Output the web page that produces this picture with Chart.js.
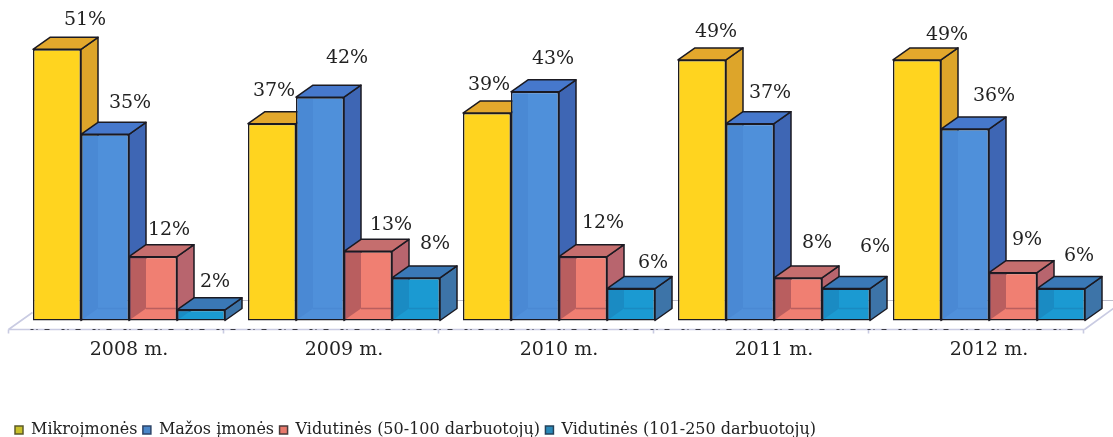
<!DOCTYPE html>
<html><head><meta charset="utf-8">
<style>html,body{margin:0;padding:0;background:#fff}#w{width:1113px;height:437px}</style>
<script src="https://cdn.jsdelivr.net/npm/chart.js@4"></script>
</head><body><div id="w"><canvas id="c"></canvas></div>
<script>
const categories = ['2008 m.','2009 m.','2010 m.','2011 m.','2012 m.'];
const mikro = [51,37,39,49,49];
const mazos = [35,42,43,37,36];
const vid50 = [12,13,12,8,9];
const vid101 = [2,8,6,6,6];
const seriesNames = ['Mikroįmonės','Mažos įmonės','Vidutinės (50-100 darbuotojų)','Vidutinės (101-250 darbuotojų)'];
// label nudges from each bar's top centre, [dx, dy] in px
const labelNudges = [
 [[28,-29],[2,-33],[2,-28],[14,-28],[30,-25]],
 [[25,-31],[27,-39],[18,-33],[20,-31],[29,-33]],
 [[16,-27],[23,-26],[20,-34],[19,-35],[14,-33]],
 [[14,-28],[19,-34],[22,-26],[29,-42],[18,-33]]
];
const palette = [
 {front:'#FFD41F',side:'#DDA52A',top:'#E3A82C',wall:null,legend:'#C9C12B',edge:'#5B5A2A'},
 {front:'#4F90DA',side:'#3E66B4',top:'#4678CC',wall:'rgba(40,80,170,0.10)',legend:'#4A86C8',edge:'#2C4468'},
 {front:'#F07F72',side:'#B8656E',top:'#C56E6E',wall:'rgba(110,50,70,0.42)',legend:'#E8796C',edge:'#4A3A3A'},
 {front:'#1B9AD2',side:'#3D74A8',top:'#3A78B6',wall:'rgba(20,70,130,0.18)',legend:'#2A88B8',edge:'#24425A'}
];
const DEPTH_X = 17, DEPTH_Y = 12, INK = '#1b1a22';
const FONT = '"DejaVu Serif"';

function poly(ctx, pts, fill){
  ctx.beginPath(); pts.forEach((p,i)=> i?ctx.lineTo(p[0],p[1]):ctx.moveTo(p[0],p[1])); ctx.closePath();
  if(fill){ctx.fillStyle=fill;ctx.fill();}
  ctx.strokeStyle=INK;ctx.lineWidth=1.5;ctx.lineJoin='round';ctx.stroke();
}
const bars3d = {
  id:'bars3d',
  beforeDatasetDraw(){ return false; },
  beforeDatasetsDraw(chart){
    const {ctx} = chart, x = chart.scales.x, y = chart.scales.y;
    const base = y.getPixelForValue(0), step = (x.right-x.left)/categories.length;
    const fy = base+9, bk = base-20, L = x.left-13, R = x.right-12;
    ctx.save();
    ctx.strokeStyle='#C9CBE2';ctx.lineWidth=1.6;
    ctx.beginPath();ctx.moveTo(L,fy);ctx.lineTo(R,fy);
    ctx.moveTo(L,fy);ctx.lineTo(L+24,fy-17);
    ctx.moveTo(R,fy);ctx.lineTo(R+29,fy-21);
    for(let i=0;i<=categories.length;i++){const t=L+i*step;ctx.moveTo(t,fy);ctx.lineTo(t,fy+4);}
    ctx.stroke();
    ctx.strokeStyle='#BDBDCB';ctx.lineWidth=1.2;
    ctx.beginPath();ctx.moveTo(L+25,bk);ctx.lineTo(chart.width,bk);ctx.stroke();
    ctx.strokeStyle='#3a3a44';ctx.lineWidth=1;ctx.setLineDash([3,3,1,7,5,12]);
    ctx.beginPath();ctx.moveTo(L+22,fy);ctx.lineTo(R-10,fy);ctx.stroke();
    ctx.restore();
  },
  afterDatasetsDraw(chart){
    const {ctx} = chart;
    chart.data.datasets.forEach((ds,d)=>{
      const meta = chart.getDatasetMeta(d), c = palette[d];
      meta.data.forEach(b=>{
        const l=b.x-b.width/2, r=b.x+b.width/2, t=b.y, bo=b.base;
        ctx.save();
        poly(ctx,[[r,t],[r+DEPTH_X,t-DEPTH_Y],[r+DEPTH_X,bo-DEPTH_Y],[r,bo]],c.side);
        poly(ctx,[[l,t],[l+DEPTH_X,t-DEPTH_Y],[r+DEPTH_X,t-DEPTH_Y],[r,t]],c.top);
        ctx.restore();
      });
      meta.controller.draw();
      meta.data.forEach(b=>{
        if(!c.wall) return;
        const l=b.x-b.width/2, r=b.x+b.width/2, t=b.y, bo=b.base;
        ctx.save();
        ctx.beginPath();ctx.rect(l+1,t+1,r-l-2,bo-t-2);ctx.clip();
        ctx.beginPath();ctx.moveTo(l,t-DEPTH_Y);ctx.lineTo(l+DEPTH_X,t-DEPTH_Y);ctx.lineTo(l+DEPTH_X,bo-DEPTH_Y);ctx.lineTo(l,bo);ctx.closePath();
        ctx.fillStyle=c.wall;ctx.fill();
        ctx.strokeStyle=c.wall;ctx.lineWidth=1.5;
        ctx.beginPath();ctx.moveTo(l+DEPTH_X,bo-DEPTH_Y);ctx.lineTo(r,bo-DEPTH_Y);ctx.stroke();
        ctx.restore();
      });
    });
    // value labels above all bars
    ctx.save();
    ctx.fillStyle='#222';ctx.font='19px '+FONT;ctx.textAlign='center';ctx.textBaseline='middle';
    chart.data.datasets.forEach((ds,d)=>{
      chart.getDatasetMeta(d).data.forEach((b,i)=>{
        const n=labelNudges[d][i];
        ctx.fillText(ds.data[i]+'%',b.x+n[0],b.y+n[1]);
      });
    });
    ctx.restore();
  }
};
const allSeries=[mikro,mazos,vid50,vid101];
new Chart(document.getElementById('c'),{
  type:'bar',
  plugins:[bars3d],
  data:{labels:categories,datasets:allSeries.map((s,i)=>({
    label:seriesNames[i],data:s,
    backgroundColor:palette[i].front,borderColor:INK,borderWidth:1.5,borderSkipped:false,
    barPercentage:1,categoryPercentage:192/215
  }))},
  options:{
    responsive:true,maintainAspectRatio:false,animation:false,devicePixelRatio:1,
    font:{family:FONT},
    layout:{padding:{left:9.5,right:16.5,top:1.4,bottom:-11}},
    scales:{
      x:{grid:{display:false},border:{display:false},
         ticks:{color:'#222',font:{family:FONT,size:19},padding:10,maxRotation:0},
         afterFit(s){s.height=96;}},
      y:{min:0,max:60,display:true,grid:{display:false},border:{display:false},
         ticks:{display:false},afterFit(s){s.width=12;}}
    },
    plugins:{
      tooltip:{enabled:false},
      legend:{position:'bottom',align:'start',
        labels:{padding:5.5,boxWidth:8,boxHeight:8,color:'#222',font:{family:FONT,size:16},
          generateLabels(chart){
            return chart.data.datasets.map((ds,i)=>({text:ds.label,fillStyle:palette[i].legend,strokeStyle:palette[i].edge,lineWidth:1.5,datasetIndex:i,fontColor:'#222'}));
          }}}
    }
  }
});
</script></body></html>
